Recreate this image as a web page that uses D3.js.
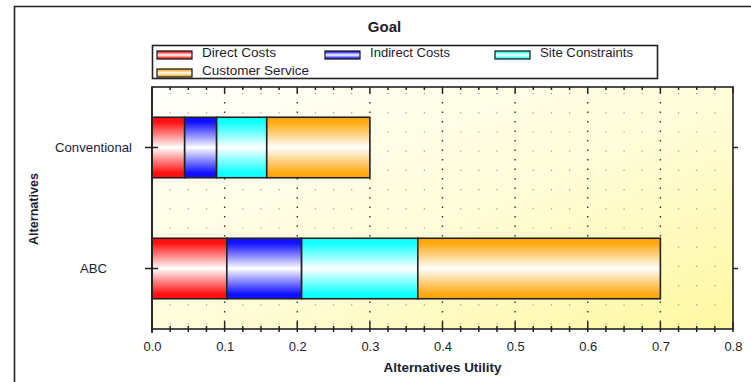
<!DOCTYPE html>
<html>
<head>
<meta charset="utf-8">
<script src="https://cdn.jsdelivr.net/npm/d3@7"></script>
<style>
  html, body { margin: 0; padding: 0; background: #fff; }
  svg { display: block; font-family: "Liberation Sans", Arial, sans-serif; }
</style>
</head>
<body>
<svg id="chart" width="751" height="382"></svg>
<script>
// Alternatives and the utility contributed by each criterion
const categories = ["Conventional", "ABC"];
const seriesNames = ["Direct Costs", "Indirect Costs", "Site Constraints", "Customer Service"];
const directCosts = [0.045, 0.103];
const indirectCosts = [0.044, 0.103];
const siteConstraints = [0.069, 0.160];
const customerService = [0.142, 0.334];
const seriesColors = ["#ff1010", "#1010ff", "#10ffff", "#ffa810"];
const xTickValues = [0, 0.1, 0.2, 0.3, 0.4, 0.5, 0.6, 0.7, 0.8];
const xMax = 0.8;

const rows = categories.map((c, i) => ({
  category: c,
  "Direct Costs": directCosts[i],
  "Indirect Costs": indirectCosts[i],
  "Site Constraints": siteConstraints[i],
  "Customer Service": customerService[i]
}));

const textColor = "#1c1c30";
const svg = d3.select("#chart");
const plot = { left: 152, right: 733, top: 87, bottom: 329 };

const x = d3.scaleLinear().domain([0, xMax]).range([plot.left, plot.right]);
const y = d3.scaleBand().domain(categories).range([plot.top, plot.bottom]).paddingInner(0.5).paddingOuter(0.25);
const color = d3.scaleOrdinal().domain(seriesNames).range(seriesColors);

const defs = svg.append("defs");

// plot background: near white fading into pale yellow
const bg = defs.append("linearGradient").attr("id", "bgGrad")
  .attr("x1", "0%").attr("y1", "0%").attr("x2", "100%").attr("y2", "100%");
bg.append("stop").attr("offset", "0%").attr("stop-color", "#fffffb");
bg.append("stop").attr("offset", "55%").attr("stop-color", "#fffcd6");
bg.append("stop").attr("offset", "100%").attr("stop-color", "#fff8a0");

// shiny bar fills: colour at the edges, white through the middle
seriesNames.forEach((s, i) => {
  const g = defs.append("linearGradient").attr("id", "barGrad" + i)
    .attr("x1", "0").attr("y1", "0").attr("x2", "0").attr("y2", "1");
  g.append("stop").attr("offset", "0%").attr("stop-color", color(s));
  g.append("stop").attr("offset", "8%").attr("stop-color", color(s));
  g.append("stop").attr("offset", "50%").attr("stop-color", "#ffffff");
  g.append("stop").attr("offset", "92%").attr("stop-color", color(s));
  g.append("stop").attr("offset", "100%").attr("stop-color", color(s));
});

// outer frame
svg.append("path")
  .attr("d", "M14.5,382 L14.5,6.5 L751,6.5")
  .attr("fill", "none").attr("stroke", "#222").attr("stroke-width", 1.6);

// title
svg.append("text")
  .attr("x", 384.5).attr("y", 31.5)
  .attr("text-anchor", "middle")
  .attr("font-size", 15).attr("font-weight", "bold").attr("fill", textColor)
  .text("Goal");

// legend
const legend = svg.append("g");
legend.append("rect")
  .attr("x", 152.5).attr("y", 45.5).attr("width", 505).attr("height", 33)
  .attr("fill", "#fff").attr("stroke", "#222").attr("stroke-width", 1.6);
const legendPos = [
  { x: 157, y: 52, w: 74 }, { x: 325, y: 52, w: 80 }, { x: 495, y: 52, w: 93 }, { x: 157, y: 70, w: 107 }
];
seriesNames.forEach((s, i) => {
  const p = legendPos[i];
  legend.append("rect")
    .attr("x", p.x).attr("y", p.y - 1).attr("width", 35).attr("height", 8)
    .attr("fill", "url(#barGrad" + i + ")").attr("stroke", "#222").attr("stroke-width", 1.3);
  legend.append("text")
    .attr("x", p.x + 45).attr("y", p.y + 5)
    .attr("font-size", 12.5).attr("fill", textColor)
    .attr("textLength", p.w).attr("lengthAdjust", "spacingAndGlyphs")
    .text(s);
});

// plot area
svg.append("rect")
  .attr("x", plot.left).attr("y", plot.top)
  .attr("width", plot.right - plot.left).attr("height", plot.bottom - plot.top)
  .attr("fill", "url(#bgGrad)");

// dotted grid: minor columns every 0.025, darker columns every 0.1
const minorTicks = d3.range(0, xMax + 1e-9, 0.025).filter(v => Math.abs(v * 10 - Math.round(v * 10)) > 1e-6);
const grid = svg.append("g");
grid.selectAll("line.minor").data(minorTicks).join("line")
  .attr("x1", d => x(d)).attr("x2", d => x(d))
  .attr("y1", plot.top + 6).attr("y2", plot.bottom)
  .attr("stroke", "#999").attr("stroke-width", 1.2)
  .attr("stroke-dasharray", "1.2,18");
grid.selectAll("line.major").data(xTickValues.slice(1, -1)).join("line")
  .attr("x1", d => x(d)).attr("x2", d => x(d))
  .attr("y1", plot.top + 5.5).attr("y2", plot.bottom)
  .attr("stroke", "#333").attr("stroke-width", 1.4)
  .attr("stroke-dasharray", "1.4,8.1");

// stacked bars
const stack = d3.stack().keys(seriesNames)(rows);
svg.append("g").selectAll("g").data(stack).join("g")
  .attr("fill", (d, i) => "url(#barGrad" + i + ")")
  .selectAll("rect").data(d => d).join("rect")
  .attr("x", d => x(d[0]))
  .attr("y", d => y(d.data.category))
  .attr("width", d => x(d[1]) - x(d[0]))
  .attr("height", y.bandwidth())
  .attr("stroke", "#222").attr("stroke-width", 1.6);

// plot border
svg.append("rect")
  .attr("x", plot.left).attr("y", plot.top)
  .attr("width", plot.right - plot.left).attr("height", plot.bottom - plot.top)
  .attr("fill", "none").attr("stroke", "#222").attr("stroke-width", 1.6);

// bottom axis
const xAxis = d3.axisBottom(x).tickValues(xTickValues).tickFormat(d3.format(".1f")).tickSize(0).tickPadding(13);
const gx = svg.append("g").attr("transform", `translate(0,${plot.bottom})`).call(xAxis);
gx.select(".domain").remove();
gx.selectAll("text").attr("font-size", 13).attr("fill", textColor)
  .attr("font-family", "Liberation Sans, Arial, sans-serif")
  .attr("textLength", 18).attr("lengthAdjust", "spacingAndGlyphs");
const allTicks = d3.range(0, xMax + 1e-9, 0.025);
svg.append("g").selectAll("line").data(allTicks).join("line")
  .attr("x1", d => x(d)).attr("x2", d => x(d))
  .attr("y1", d => minorTicks.includes(d) ? plot.bottom - 3 : plot.bottom - 7)
  .attr("y2", plot.bottom + 3)
  .attr("stroke", "#222").attr("stroke-width", 1.5);
// top edge ticks
svg.append("g").selectAll("line").data(allTicks).join("line")
  .attr("x1", d => x(d)).attr("x2", d => x(d))
  .attr("y1", plot.top)
  .attr("y2", d => minorTicks.includes(d) ? plot.top + 3 : plot.top + 6)
  .attr("stroke", "#222").attr("stroke-width", 1.5);
// left axis line runs a little below the plot
svg.append("line")
  .attr("x1", plot.left).attr("x2", plot.left)
  .attr("y1", plot.top).attr("y2", plot.bottom + 4)
  .attr("stroke", "#222").attr("stroke-width", 1.6);

// left axis (categories)
const yAxis = d3.axisLeft(y).tickSize(0).tickPadding(0);
const gy = svg.append("g").attr("transform", `translate(${plot.left},0)`).call(yAxis);
gy.select(".domain").remove();
const catWidths = { "Conventional": 77, "ABC": 27 };
gy.selectAll("text")
  .attr("x", 93.5 - plot.left).attr("text-anchor", "middle")
  .attr("font-size", 13).attr("fill", textColor)
  .attr("font-family", "Liberation Sans, Arial, sans-serif")
  .attr("textLength", d => catWidths[d]).attr("lengthAdjust", "spacingAndGlyphs");
svg.append("g").selectAll("line").data(categories).join("line")
  .attr("x1", plot.left - 7).attr("x2", plot.left + 6)
  .attr("y1", d => y(d) + y.bandwidth() / 2).attr("y2", d => y(d) + y.bandwidth() / 2)
  .attr("stroke", "#222").attr("stroke-width", 1.5);
svg.append("g").selectAll("line").data(categories).join("line")
  .attr("x1", plot.right).attr("x2", plot.right + 5)
  .attr("y1", d => y(d) + y.bandwidth() / 2).attr("y2", d => y(d) + y.bandwidth() / 2)
  .attr("stroke", "#222").attr("stroke-width", 1.5);

// axis titles
svg.append("text")
  .attr("x", (plot.left + plot.right) / 2).attr("y", 372)
  .attr("text-anchor", "middle").attr("font-size", 13).attr("font-weight", "bold")
  .attr("fill", textColor)
  .attr("textLength", 118).attr("lengthAdjust", "spacingAndGlyphs")
  .text("Alternatives Utility");
svg.append("text")
  .attr("transform", "translate(38,209) rotate(-90)")
  .attr("text-anchor", "middle").attr("font-size", 12.5).attr("font-weight", "bold")
  .attr("fill", textColor)
  .attr("textLength", 72).attr("lengthAdjust", "spacingAndGlyphs")
  .text("Alternatives");
</script>
</body>
</html>
